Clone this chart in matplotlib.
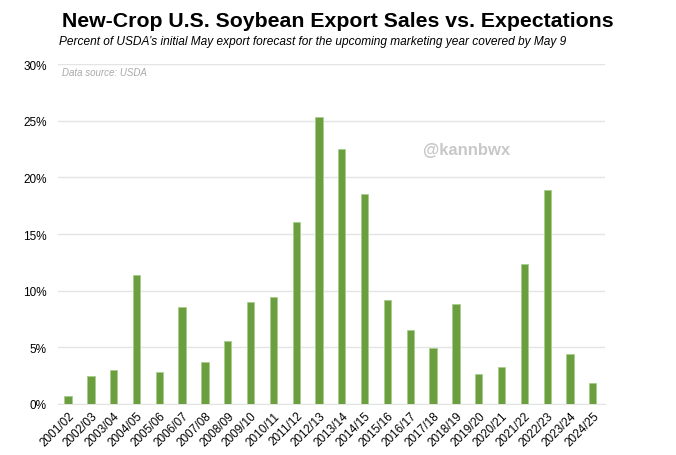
import matplotlib.pyplot as plt
import numpy as np
from matplotlib.ticker import FuncFormatter

plt.rcParams['font.family'] = ['Liberation Sans', 'DejaVu Sans']

# data
seasons = ['2001/02', '2002/03', '2003/04', '2004/05', '2005/06', '2006/07',
           '2007/08', '2008/09', '2009/10', '2010/11', '2011/12', '2012/13',
           '2013/14', '2014/15', '2015/16', '2016/17', '2017/18', '2018/19',
           '2019/20', '2020/21', '2021/22', '2022/23', '2023/24', '2024/25']
pct_covered = [0.7, 2.5, 3.0, 11.4, 2.8, 8.6, 3.7, 5.55, 9.0, 9.45, 16.05, 25.3,
               22.5, 18.5, 9.2, 6.55, 4.9, 8.85, 2.65, 3.25, 12.35, 18.9, 4.4, 1.85]
yticks = [0, 5, 10, 15, 20, 25, 30]

fig = plt.figure(figsize=(6.76, 4.56), dpi=100)
ax = fig.add_axes([0.0858, 0.112, 0.809, 0.745])

x = np.arange(len(seasons))
ax.bar(x, pct_covered, width=0.32, color='#6a9e3f', edgecolor='#a9cc8c',
       linewidth=0.6, zorder=3)

ax.set_ylim(0, 30)
ax.set_xlim(-0.44, 23.53)
ax.set_yticks(yticks)
ax.yaxis.set_major_formatter(FuncFormatter(lambda v, p: f'{v:.0f}%'))
ax.set_xticks(x)
ax.set_xticklabels(seasons, rotation=45, ha='right', rotation_mode='anchor',
                   fontsize=8.5)
ax.tick_params(axis='both', length=0, labelsize=8.5)
ax.tick_params(axis='y', pad=8)
ax.tick_params(axis='x', pad=4)
ax.grid(axis='y', color='#e4e4e4', linewidth=1, zorder=0)
for s in ['top', 'right', 'left']:
    ax.spines[s].set_visible(False)
ax.spines['bottom'].set_color('#e4e4e4')

fig.text(0.5, 0.952, 'New-Crop U.S. Soybean Export Sales vs. Expectations',
         ha='center', va='center', fontsize=15.3, fontweight='bold')
fig.text(0.463, 0.908, "Percent of USDA’s initial May export forecast for the upcoming marketing year covered by May 9",
         ha='center', va='center', fontsize=8.6, style='italic')
fig.text(0.092, 0.84, 'Data source: USDA', ha='left', va='center',
         fontsize=7, style='italic', color='#aaaaaa')
fig.text(0.69, 0.67, '@kannbwx', ha='center', va='center',
         fontsize=12, fontweight='bold', color='#c8c8c8')

fig.savefig('out.png', dpi=100)
